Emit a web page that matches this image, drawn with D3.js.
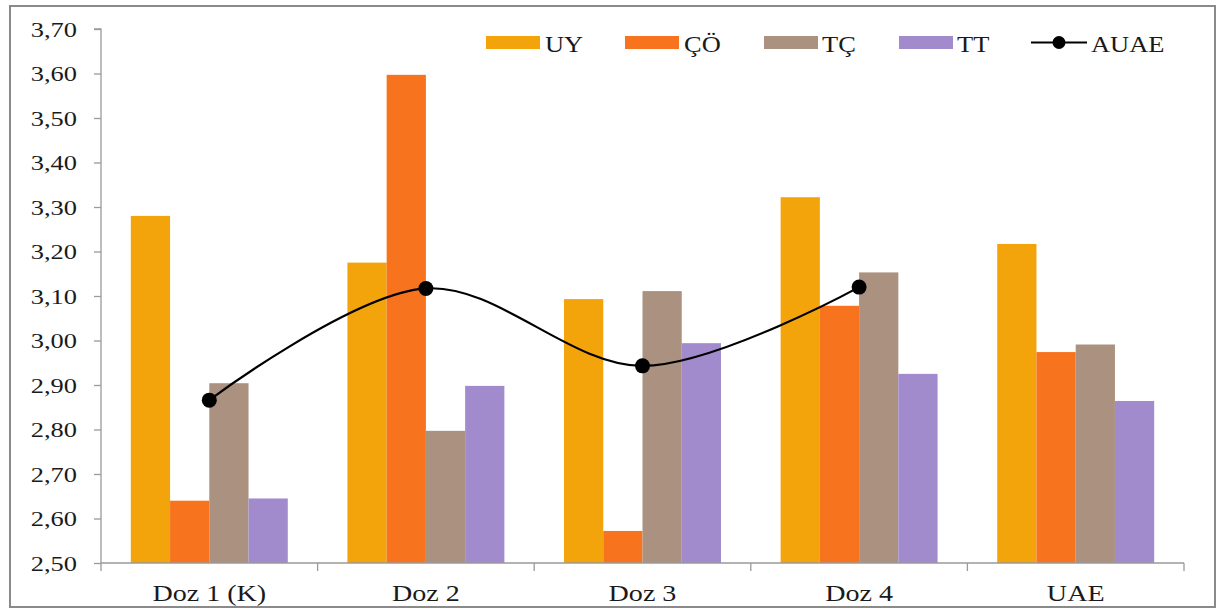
<!DOCTYPE html>
<html>
<head>
<meta charset="utf-8">
<script src="https://cdn.jsdelivr.net/npm/d3@7"></script>
<style>
  html, body { margin: 0; padding: 0; background: #fff; }
  svg { display: block; }
  text { font-family: "Liberation Serif", "Times New Roman", serif; fill: #1a1a1a; }
</style>
</head>
<body>
<svg id="chart" width="1217" height="609"></svg>
<script>
// Dose groups on the x axis
const categories = ["Doz 1 (K)", "Doz 2", "Doz 3", "Doz 4", "UAE"];
// Bar series
const seriesNames = ["UY", "ÇÖ", "TÇ", "TT"];
const uy = [3.28, 3.175, 3.093, 3.322, 3.217];
const co = [2.64, 3.597, 2.572, 3.078, 2.974];
const tc = [2.904, 2.797, 3.111, 3.153, 2.991];
const tt = [2.645, 2.898, 2.994, 2.925, 2.864];
// Line series (first four groups only)
const auaeName = "AUAE";
const auae = [2.866, 3.117, 2.943, 3.12];
// Y axis ticks
const yTicks = [2.5, 2.6, 2.7, 2.8, 2.9, 3.0, 3.1, 3.2, 3.3, 3.4, 3.5, 3.6, 3.7];

const colors = ["#F3A40A", "#F8731E", "#AA9180", "#A18BCD"];
const seriesValues = [uy, co, tc, tt];

const svg = d3.select("#chart");
const plot = { left: 101, right: 1184, top: 29, bottom: 563 };
const axisColor = "#9a9a9a";
const sx = 1.2; // horizontal stretch of the serif lettering

// outer frame
svg.append("rect")
  .attr("x", 10).attr("y", 6).attr("width", 1205).attr("height", 601)
  .attr("fill", "none").attr("stroke", "#8a8a8a").attr("stroke-width", 2);

const x = d3.scaleBand().domain(categories).range([plot.left, plot.right]).paddingInner(0).paddingOuter(0);
const xInner = d3.scaleBand().domain(seriesNames).range([0, x.bandwidth()]).paddingInner(0).paddingOuter(0.76);
const y = d3.scaleLinear().domain([2.5, 3.7]).range([plot.bottom, plot.top]);

// bars
const groups = svg.append("g").selectAll("g")
  .data(categories)
  .join("g")
  .attr("transform", d => `translate(${x(d)},0)`);

groups.selectAll("rect")
  .data((c, ci) => seriesNames.map((s, si) => ({ s, si, v: seriesValues[si][ci] })))
  .join("rect")
  .attr("x", d => xInner(d.s))
  .attr("width", xInner.bandwidth())
  .attr("y", d => y(d.v))
  .attr("height", d => y(2.5) - y(d.v))
  .attr("fill", d => colors[d.si]);

// y axis
const yAxis = svg.append("g")
  .attr("transform", `translate(${plot.left},0)`)
  .call(d3.axisLeft(y).tickValues(yTicks).tickSize(7).tickPadding(0)
    .tickFormat(d => d3.format(".2f")(d).replace(".", ",")));
yAxis.select(".domain").attr("stroke", axisColor).attr("stroke-width", 1.3)
  .attr("d", `M-7,${plot.top}H0V${plot.bottom + 8}`);
yAxis.selectAll(".tick line").attr("stroke", axisColor).attr("stroke-width", 1.3);
yAxis.selectAll(".tick text")
  .attr("x", null).attr("dy", "0.34em")
  .attr("transform", `translate(-24,0) scale(${sx},1)`)
  .style("font-size", "22px");

// x axis
const boundaries = categories.map(c => x(c)).concat([plot.right]);
const xAxis = svg.append("g");
xAxis.append("line")
  .attr("x1", plot.left).attr("x2", plot.right)
  .attr("y1", plot.bottom).attr("y2", plot.bottom)
  .attr("stroke", axisColor).attr("stroke-width", 1.3);
xAxis.selectAll("line.tk")
  .data(boundaries.slice(1))
  .join("line").attr("class", "tk")
  .attr("x1", d => d).attr("x2", d => d)
  .attr("y1", plot.bottom).attr("y2", plot.bottom + 8)
  .attr("stroke", axisColor).attr("stroke-width", 1.3);
xAxis.selectAll("text")
  .data(categories)
  .join("text")
  .attr("text-anchor", "middle")
  .attr("transform", d => `translate(${x(d) + x.bandwidth() / 2},601) scale(1.17,1)`)
  .style("font-size", "24px")
  .text(d => d);

// AUAE smoothed line
const pts = auae.map((v, i) => [x(categories[i]) + x.bandwidth() / 2, y(v)]);
svg.append("path")
  .attr("d", d3.line().curve(d3.curveCatmullRom.alpha(0.5))(pts))
  .attr("fill", "none").attr("stroke", "#000").attr("stroke-width", 2.2);
svg.append("g").selectAll("circle")
  .data(pts).join("circle")
  .attr("cx", d => d[0]).attr("cy", d => d[1]).attr("r", 7.5)
  .attr("fill", "#000");

// legend
const legendItems = [
  { name: seriesNames[0], color: colors[0], x: 486, tx: 545 },
  { name: seriesNames[1], color: colors[1], x: 625, tx: 684 },
  { name: seriesNames[2], color: colors[2], x: 764, tx: 822 },
  { name: seriesNames[3], color: colors[3], x: 899, tx: 957 }
];
const legend = svg.append("g");
legend.selectAll("rect")
  .data(legendItems).join("rect")
  .attr("x", d => d.x).attr("y", 36).attr("width", 54).attr("height", 13)
  .attr("fill", d => d.color);
legend.selectAll("text.lg")
  .data(legendItems).join("text").attr("class", "lg")
  .attr("transform", d => `translate(${d.tx},52) scale(1.15,1)`)
  .style("font-size", "23px")
  .text(d => d.name);
legend.append("line")
  .attr("x1", 1031).attr("x2", 1087).attr("y1", 42.5).attr("y2", 42.5)
  .attr("stroke", "#000").attr("stroke-width", 2.2);
legend.append("circle").attr("cx", 1059).attr("cy", 42.5).attr("r", 6.5).attr("fill", "#000");
legend.append("text")
  .attr("transform", "translate(1091,52) scale(1.15,1)")
  .style("font-size", "23px")
  .text(auaeName);
</script>
</body>
</html>
